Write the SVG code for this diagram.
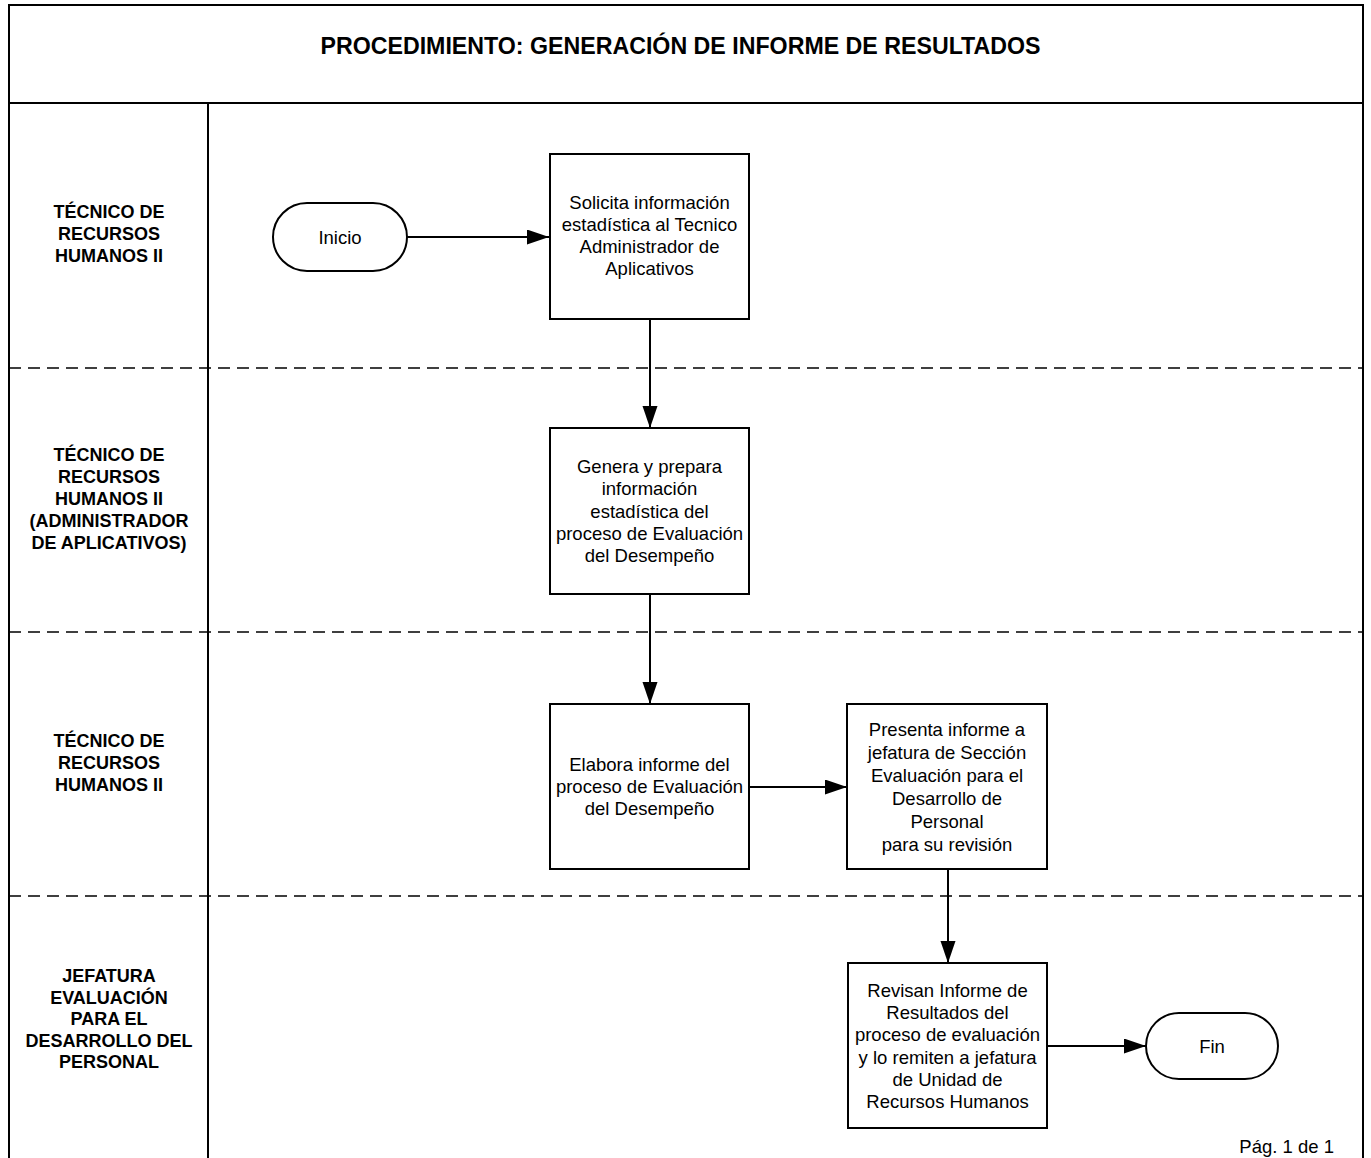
<svg xmlns="http://www.w3.org/2000/svg" width="1371" height="1158" viewBox="0 0 1371 1158">
<style>
.frame{fill:none;stroke:#000;stroke-width:2}
.dash{fill:none;stroke:#000;stroke-width:1.6;stroke-dasharray:12 7}
.box{fill:#fff;stroke:#000;stroke-width:2}
.conn{fill:none;stroke:#000;stroke-width:2}
.t{font-family:"Liberation Sans",Arial,sans-serif;font-size:18.5px;fill:#000;text-anchor:middle}
.lane{font-family:"Liberation Sans",Arial,sans-serif;font-size:18px;font-weight:bold;fill:#000;text-anchor:middle}
.title{font-family:"Liberation Sans",Arial,sans-serif;font-size:23.2px;font-weight:bold;fill:#000;text-anchor:middle}
</style>
<defs>
<marker id="arr" markerUnits="userSpaceOnUse" markerWidth="22" markerHeight="16" refX="22" refY="7.5" orient="auto">
<path d="M0,0 L22,7.5 L0,15 z" fill="#000"/>
</marker>
</defs>
<rect width="1371" height="1158" fill="#fff"/>
<g id="frame">
<path class="frame" d="M9,1158 L9,5 L1363,5 L1363,1158"/>
<line class="frame" x1="9" y1="103" x2="1363" y2="103"/>
<line class="frame" x1="208" y1="103" x2="208" y2="1158"/>
<line class="dash" x1="9" y1="368" x2="1363" y2="368"/>
<line class="dash" x1="9" y1="632" x2="1363" y2="632"/>
<line class="dash" x1="9" y1="896" x2="1363" y2="896"/>
<text class="title" x="680.5" y="54">PROCEDIMIENTO: GENERACIÓN DE INFORME DE RESULTADOS</text>
<text class="t" x="1334" y="1153" style="text-anchor:end">Pág. 1 de 1</text>
</g>
<g id="lane1">
<text class="lane"><tspan x="109" y="218">TÉCNICO DE</tspan><tspan x="109" y="240">RECURSOS</tspan><tspan x="109" y="262">HUMANOS II</tspan></text>
</g>
<g id="lane2">
<text class="lane"><tspan x="109" y="460.5">TÉCNICO DE</tspan><tspan x="109" y="482.5">RECURSOS</tspan><tspan x="109" y="504.5">HUMANOS II</tspan><tspan x="109" y="526.5">(ADMINISTRADOR</tspan><tspan x="109" y="548.5">DE APLICATIVOS)</tspan></text>
</g>
<g id="lane3">
<text class="lane"><tspan x="109" y="746.5">TÉCNICO DE</tspan><tspan x="109" y="768.5">RECURSOS</tspan><tspan x="109" y="790.5">HUMANOS II</tspan></text>
</g>
<g id="lane4">
<text class="lane"><tspan x="109" y="982">JEFATURA</tspan><tspan x="109" y="1003.5">EVALUACIÓN</tspan><tspan x="109" y="1025">PARA EL</tspan><tspan x="109" y="1046.5">DESARROLLO DEL</tspan><tspan x="109" y="1068">PERSONAL</tspan></text>
</g>
<g id="connectors">
<line class="conn" x1="407" y1="237" x2="549" y2="237" marker-end="url(#arr)"/>
<line class="conn" x1="650" y1="319" x2="650" y2="428" marker-end="url(#arr)"/>
<line class="conn" x1="650" y1="594" x2="650" y2="704" marker-end="url(#arr)"/>
<line class="conn" x1="749" y1="787" x2="847" y2="787" marker-end="url(#arr)"/>
<line class="conn" x1="948" y1="869" x2="948" y2="963" marker-end="url(#arr)"/>
<line class="conn" x1="1047" y1="1046" x2="1146" y2="1046" marker-end="url(#arr)"/>
</g>
<g id="inicio">
<rect class="box" x="273" y="203" width="134" height="68" rx="34" ry="34"/>
<text class="t" x="340" y="244">Inicio</text>
</g>
<g id="solicita">
<rect class="box" x="550" y="154" width="199" height="165"/>
<text class="t"><tspan x="649.5" y="208.5">Solicita información</tspan><tspan x="649.5" y="230.8">estadística al Tecnico</tspan><tspan x="649.5" y="253.1">Administrador de</tspan><tspan x="649.5" y="275.4">Aplicativos</tspan></text>
</g>
<g id="genera">
<rect class="box" x="550" y="428" width="199" height="166"/>
<text class="t"><tspan x="649.5" y="473">Genera y prepara</tspan><tspan x="649.5" y="495.3">información</tspan><tspan x="649.5" y="517.6">estadística del</tspan><tspan x="649.5" y="539.9">proceso de Evaluación</tspan><tspan x="649.5" y="562.2">del Desempeño</tspan></text>
</g>
<g id="elabora">
<rect class="box" x="550" y="704" width="199" height="165"/>
<text class="t"><tspan x="649.5" y="770.7">Elabora informe del</tspan><tspan x="649.5" y="793">proceso de Evaluación</tspan><tspan x="649.5" y="815.3">del Desempeño</tspan></text>
</g>
<g id="presenta">
<rect class="box" x="847" y="704" width="200" height="165"/>
<text class="t"><tspan x="947" y="736">Presenta informe a</tspan><tspan x="947" y="759">jefatura de Sección</tspan><tspan x="947" y="782">Evaluación para el</tspan><tspan x="947" y="805">Desarrollo de</tspan><tspan x="947" y="828">Personal</tspan><tspan x="947" y="851">para su revisión</tspan></text>
</g>
<g id="revisan">
<rect class="box" x="848" y="963" width="199" height="165"/>
<text class="t"><tspan x="947.5" y="996.7">Revisan Informe de</tspan><tspan x="947.5" y="1019">Resultados del</tspan><tspan x="947.5" y="1041.3">proceso de evaluación</tspan><tspan x="947.5" y="1063.6">y lo remiten a jefatura</tspan><tspan x="947.5" y="1085.9">de Unidad de</tspan><tspan x="947.5" y="1108.2">Recursos Humanos</tspan></text>
</g>
<g id="fin">
<rect class="box" x="1146" y="1013" width="132" height="66" rx="33" ry="33"/>
<text class="t" x="1212" y="1053">Fin</text>
</g>
</svg>
